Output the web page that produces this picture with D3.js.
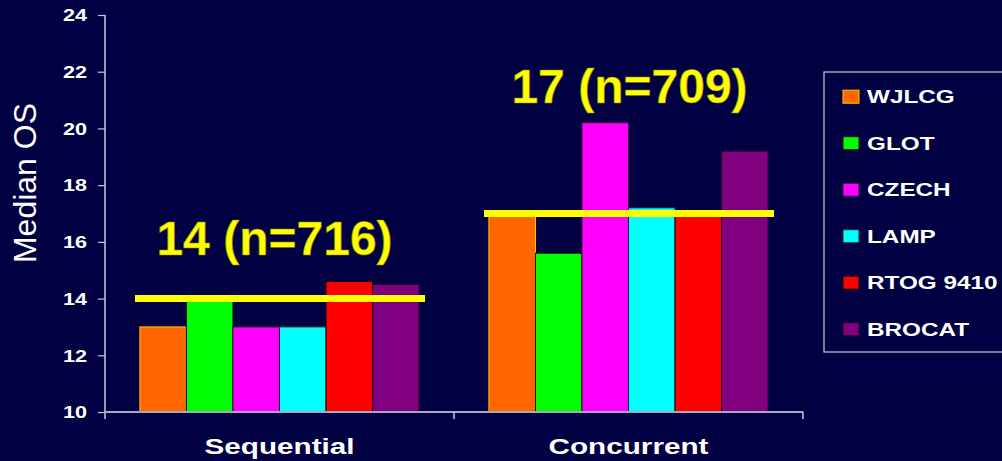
<!DOCTYPE html>
<html>
<head>
<meta charset="utf-8">
<script src="https://cdn.jsdelivr.net/npm/d3@7/dist/d3.min.js"></script>
<style>
  html, body { margin: 0; padding: 0; background: #000042; }
  svg { display: block; font-family: "Liberation Sans", Arial, sans-serif; }
</style>
</head>
<body>
<svg id="chart" width="1002" height="461"></svg>
<script>
// Median overall survival by trial, sequential vs concurrent chemoradiation
const groups = ["Sequential", "Concurrent"];
const trials = ["WJLCG", "GLOT", "CZECH", "LAMP", "RTOG 9410", "BROCAT"];
const sequentialOS = [13.0, 13.9, 13.0, 13.0, 14.6, 14.5];
const concurrentOS = [17.0, 15.6, 20.2, 17.2, 17.0, 19.2];
const pooledOS = [14, 17];
const pooledLabels = ["14 (n=716)", "17 (n=709)"];
const yTicks = [10, 12, 14, 16, 18, 20, 22, 24];
const trialColors = ["#ff6600", "#00ff00", "#ff00ff", "#00ffff", "#ff0000", "#800080"];
const trialStrokes = ["#ffcc00", "#101010", "#301030", "#103030", "#200000", "#200020"];

const seriesByGroup = [sequentialOS, concurrentOS];

const svg = d3.select("#chart");
const plot = { left: 105, right: 803, top: 15, bottom: 412 };
const stretch = 1.35; // wide bold face used for axis and legend text

const y = d3.scaleLinear().domain([10, 24]).range([plot.bottom, plot.top]);
const x0 = d3.scaleBand().domain(groups).range([plot.left, plot.right]).padding(0);
const x1 = d3.scaleBand().domain(trials).range([0, x0.bandwidth()])
  .paddingInner(0).paddingOuter(0.75);
const color = d3.scaleOrdinal().domain(trials).range(trialColors);
const strokeColor = d3.scaleOrdinal().domain(trials).range(trialStrokes);

// Bars
groups.forEach((g, gi) => {
  const gEl = svg.append("g").attr("transform", `translate(${x0(g)},0)`);
  gEl.selectAll("rect")
    .data(trials.map((t, i) => ({ trial: t, value: seriesByGroup[gi][i] })))
    .join("rect")
    .attr("x", d => x1(d.trial))
    .attr("y", d => y(d.value))
    .attr("width", x1.bandwidth())
    .attr("height", d => y(10) - y(d.value))
    .attr("fill", d => color(d.trial))
    .attr("stroke", d => strokeColor(d.trial))
    .attr("stroke-width", 1);
});

// Y axis
const yAxis = d3.axisLeft(y).tickValues(yTicks).tickSize(7).tickFormat("");
const yG = svg.append("g").attr("transform", `translate(${plot.left},0)`).call(yAxis);
yG.select(".domain").attr("stroke", "#ffffff").attr("stroke-width", 1.2)
  .attr("d", `M0,${plot.top}V${plot.bottom + 7}`);
yG.selectAll(".tick line").attr("stroke", "#c8c8d8").attr("stroke-width", 1.2);
yG.selectAll(".tick").append("text")
  .attr("transform", `translate(-18,0) scale(${stretch},1)`)
  .attr("text-anchor", "end")
  .attr("dy", "0.36em")
  .attr("fill", "#ffffff")
  .attr("font-size", 16)
  .attr("font-weight", "bold")
  .text(d => d);

// X axis with boundary ticks between groups
const boundaries = groups.map(g => x0(g)).concat([x0(groups[groups.length - 1]) + x0.bandwidth()]);
const xG = svg.append("g");
xG.append("line")
  .attr("x1", plot.left).attr("x2", plot.right)
  .attr("y1", plot.bottom).attr("y2", plot.bottom)
  .attr("stroke", "#a8a8c0").attr("stroke-width", 2);
xG.selectAll("line.tick").data(boundaries.slice(1)).join("line")
  .attr("class", "tick")
  .attr("x1", d => d).attr("x2", d => d)
  .attr("y1", plot.bottom).attr("y2", plot.bottom + 7)
  .attr("stroke", "#c8c8d8").attr("stroke-width", 1.5);
xG.selectAll("text").data(groups).join("text")
  .attr("transform", d => `translate(${x0(d) + x0.bandwidth() / 2},454) scale(${stretch},1)`)
  .attr("text-anchor", "middle")
  .attr("fill", "#ffffff")
  .attr("font-size", 22)
  .attr("font-weight", "bold")
  .text(d => d);

// Y axis title
svg.append("text")
  .attr("transform", `translate(36,183) rotate(-90)`)
  .attr("text-anchor", "middle")
  .attr("fill", "#ffffff")
  .attr("font-size", 32)
  .text("Median OS");

// Pooled median lines and labels
const labelLift = [44, 111];
groups.forEach((g, gi) => {
  const x = x0(g);
  svg.append("line")
    .attr("x1", x + 30).attr("x2", x + x0.bandwidth() - 29)
    .attr("y1", y(pooledOS[gi])).attr("y2", y(pooledOS[gi]))
    .attr("stroke", "#ffff00").attr("stroke-width", 7);
  svg.append("text")
    .attr("x", x + x0.bandwidth() / 2 - (gi === 0 ? 5 : -1))
    .attr("y", y(pooledOS[gi]) - labelLift[gi])
    .attr("text-anchor", "middle")
    .attr("fill", "#ffff00")
    .attr("stroke", "#8a8a00")
    .attr("stroke-width", 0.6)
    .attr("font-size", 48)
    .attr("font-weight", "bold")
    .text(pooledLabels[gi]);
});

// Legend
const legend = svg.append("g").attr("transform", "translate(824,72)");
legend.append("rect")
  .attr("x", 0).attr("y", 0).attr("width", 200).attr("height", 280)
  .attr("fill", "none").attr("stroke", "#c8c8d8").attr("stroke-width", 1.2);
const rows = legend.selectAll("g.row").data(trials).join("g")
  .attr("class", "row")
  .attr("transform", (d, i) => `translate(0,${24.7 + i * 46.5})`);
rows.append("rect")
  .attr("x", 19).attr("y", -6.5).attr("width", 16).attr("height", 13)
  .attr("fill", d => color(d))
  .attr("stroke", d => strokeColor(d)).attr("stroke-width", 1);
rows.append("text")
  .attr("transform", `translate(43,0) scale(${stretch},1)`)
  .attr("dy", "0.36em")
  .attr("fill", "#ffffff")
  .attr("font-size", 18)
  .attr("font-weight", "bold")
  .text(d => d);
</script>
</body>
</html>
